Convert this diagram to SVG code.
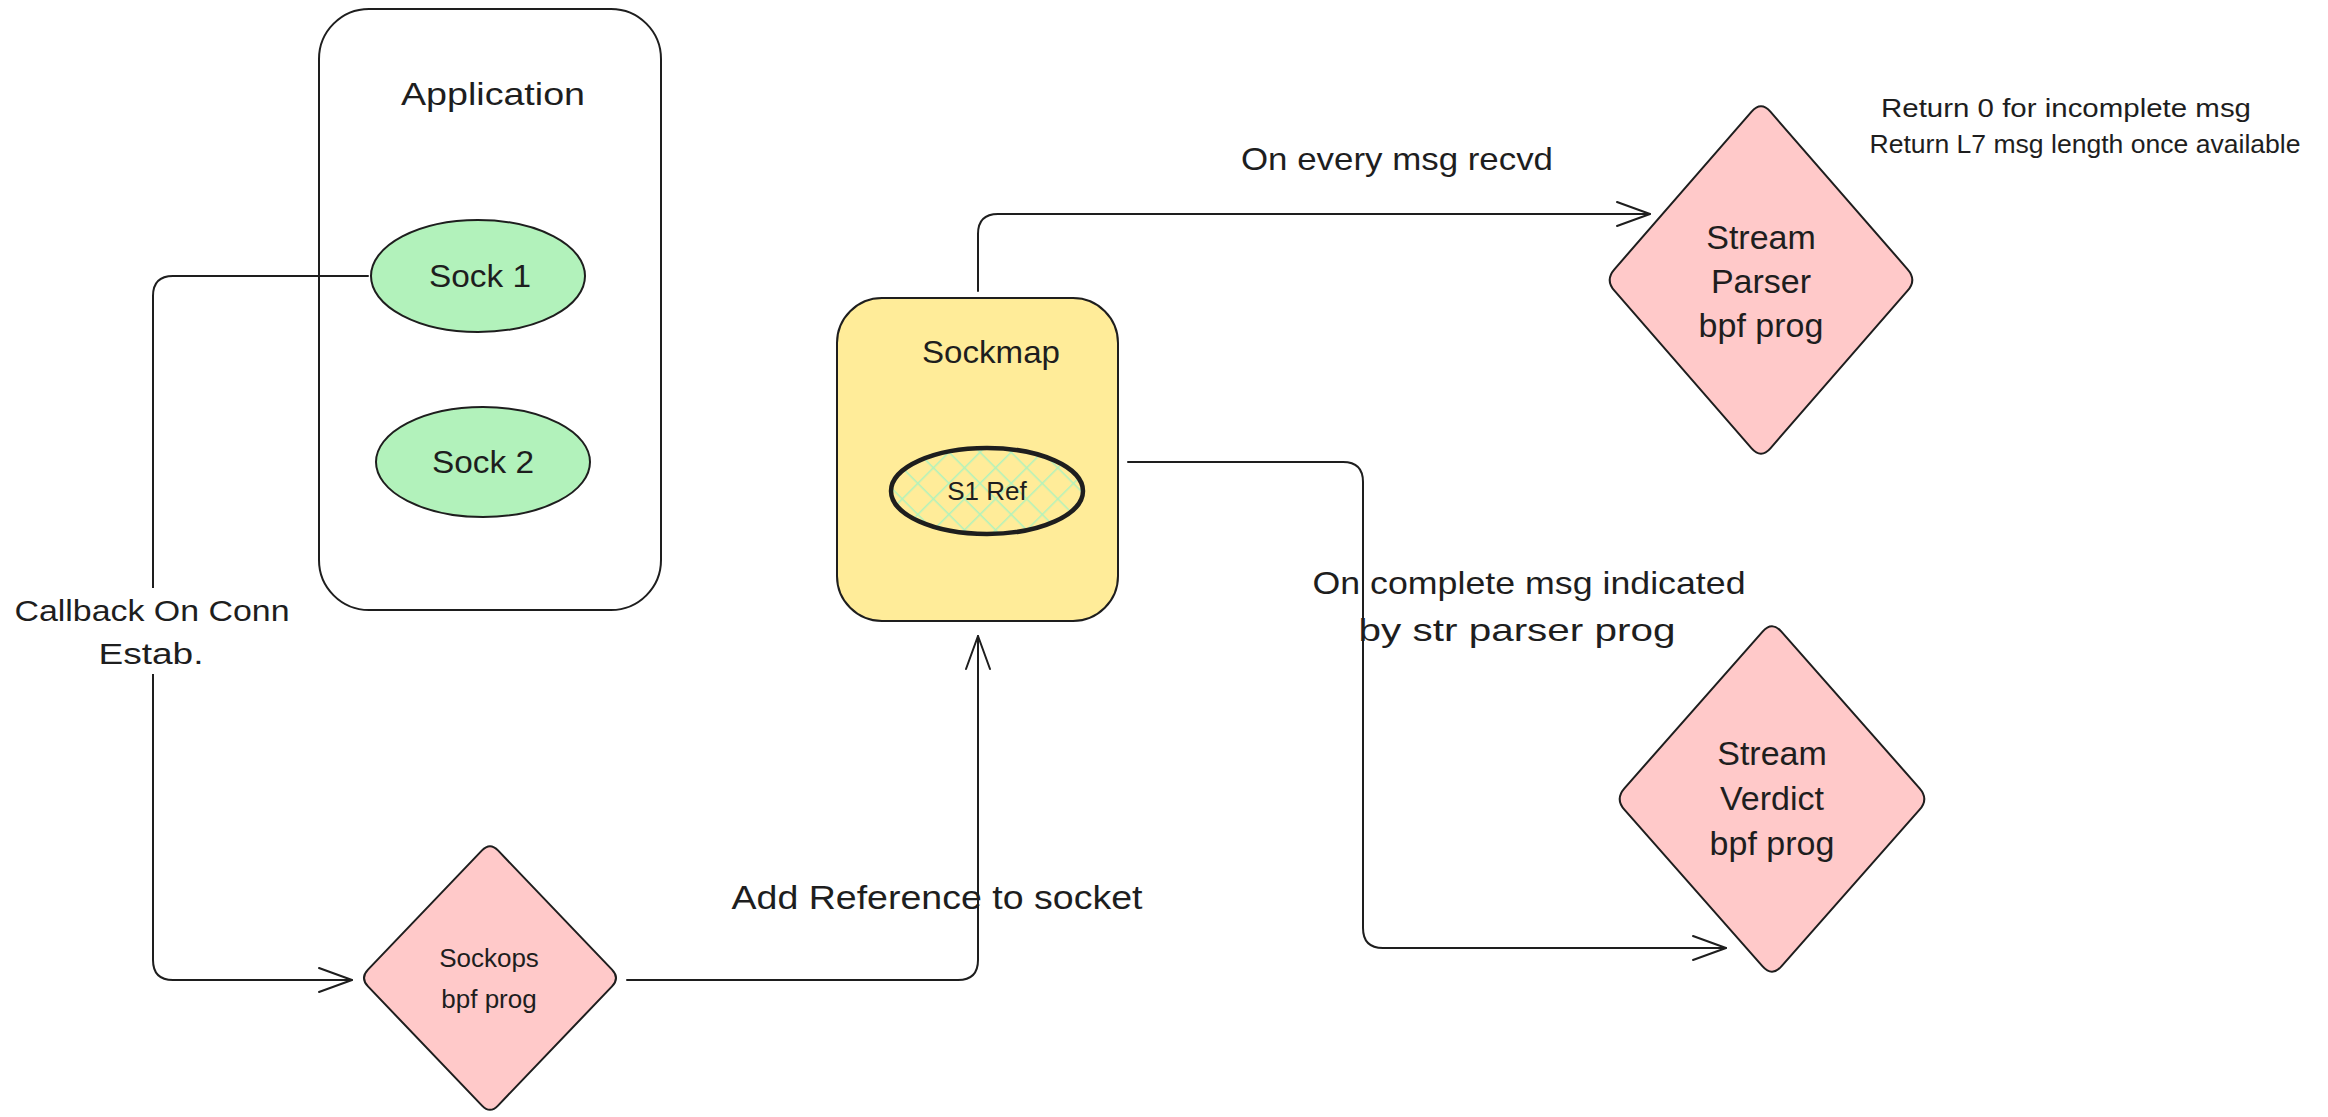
<svg xmlns="http://www.w3.org/2000/svg" width="2328" height="1117" viewBox="0 0 2328 1117">
<style>
.t{font-family:"Liberation Sans","DejaVu Sans",sans-serif;fill:#1e1e1e;text-anchor:middle;dominant-baseline:central}
.s{stroke:#1e1e1e;stroke-width:2;stroke-linejoin:round;stroke-linecap:round}
.c{fill:none;stroke:#1e1e1e;stroke-width:2;stroke-linecap:round;stroke-linejoin:round}
</style>
<defs>
<marker id="arr" markerUnits="userSpaceOnUse" markerWidth="40" markerHeight="30" viewBox="-36 -15 40 30" refX="0" refY="0" orient="auto">
<path d="M-33,-12 L0,0 L-33,12" fill="none" stroke="#1e1e1e" stroke-width="2" stroke-linecap="round" stroke-linejoin="round"/>
</marker>
<pattern id="hatch" patternUnits="userSpaceOnUse" width="22" height="22" patternTransform="rotate(45)">
<rect width="22" height="22" fill="#ffec99"/>
<line x1="0" y1="0" x2="0" y2="22" stroke="#b2f2bb" stroke-width="3"/>
<line x1="0" y1="0" x2="22" y2="0" stroke="#b2f2bb" stroke-width="3"/>
</pattern>
</defs>
<rect width="2328" height="1117" fill="#ffffff"/>

<g id="connectors">
<path class="c" d="M368,276 L173,276 Q153,276 153,296 L153,960 Q153,980 173,980 L352,980" marker-end="url(#arr)"/>
<path class="c" d="M627,980 L958,980 Q978,980 978,960 L978,636" marker-end="url(#arr)"/>
<path class="c" d="M978,291 L978,234 Q978,214 998,214 L1650,214" marker-end="url(#arr)"/>
<path class="c" d="M1128,462 L1343,462 Q1363,462 1363,482 L1363,928 Q1363,948 1383,948 L1726,948" marker-end="url(#arr)"/>
</g>

<g id="application">
<rect class="s" x="319" y="9" width="342" height="601" rx="50" fill="none"/>
<text class="t" x="493" y="94" font-size="32" textLength="184" lengthAdjust="spacingAndGlyphs">Application</text>
</g>
<g id="sock1">
<ellipse class="s" cx="478" cy="276" rx="107" ry="56" fill="#b2f2bb"/>
<text class="t" x="480" y="276" font-size="32" textLength="102" lengthAdjust="spacingAndGlyphs">Sock 1</text>
</g>
<g id="sock2">
<ellipse class="s" cx="483" cy="462" rx="107" ry="55" fill="#b2f2bb"/>
<text class="t" x="483" y="462" font-size="32" textLength="102" lengthAdjust="spacingAndGlyphs">Sock 2</text>
</g>

<g id="sockmap">
<rect class="s" x="837" y="298" width="281" height="323" rx="45" fill="#ffec99"/>
<text class="t" x="991" y="352" font-size="32" textLength="138" lengthAdjust="spacingAndGlyphs">Sockmap</text>
</g>
<g id="s1ref">
<ellipse cx="987" cy="491" rx="96" ry="43" fill="url(#hatch)" stroke="#1e1e1e" stroke-width="4.5"/>
<text class="t" x="987" y="491" font-size="26">S1 Ref</text>
</g>

<g id="stream-parser">
<path class="s" fill="#ffc9c9" d="M1770.4,111.7 L1907.6,269.3 Q1917,280 1907.6,290.7 L1770.4,448.3 Q1761,459 1751.6,448.3 L1614.4,290.7 Q1605,280 1614.4,269.3 L1751.6,111.7 Q1761,101 1770.4,111.7 Z"/>
<text class="t" x="1761" y="237" font-size="34">Stream</text>
<text class="t" x="1761" y="281" font-size="34">Parser</text>
<text class="t" x="1761" y="325" font-size="34">bpf prog</text>
</g>

<g id="stream-verdict">
<path class="s" fill="#ffc9c9" d="M1781.4,631.7 L1919.6,788.3 Q1929,799 1919.6,809.7 L1781.4,966.3 Q1772,977 1762.6,966.3 L1624.4,809.7 Q1615,799 1624.4,788.3 L1762.6,631.7 Q1772,621 1781.4,631.7 Z"/>
<text class="t" x="1772" y="753" font-size="34">Stream</text>
<text class="t" x="1772" y="798" font-size="34">Verdict</text>
<text class="t" x="1772" y="843" font-size="34">bpf prog</text>
</g>

<g id="sockops">
<path class="s" fill="#ffc9c9" d="M498,850.4 L612,969.6 Q620,978 612,986.4 L498,1105.6 Q490,1114 482,1105.6 L368,986.4 Q360,978 368,969.6 L482,850.4 Q490,842 498,850.4 Z"/>
<text class="t" x="489" y="958" font-size="26">Sockops</text>
<text class="t" x="489" y="999" font-size="26">bpf prog</text>
</g>

<g id="labels">
<rect x="12" y="588" width="282" height="86" fill="#ffffff"/>
<text class="t" x="152" y="610" font-size="30" textLength="275" lengthAdjust="spacingAndGlyphs">Callback On Conn</text>
<text class="t" x="151" y="653" font-size="30" textLength="105" lengthAdjust="spacingAndGlyphs">Estab.</text>
<text class="t" x="937" y="897" font-size="34" textLength="411" lengthAdjust="spacingAndGlyphs">Add Reference to socket</text>
<text class="t" x="1397" y="159" font-size="32" textLength="312" lengthAdjust="spacingAndGlyphs">On every msg recvd</text>
<text class="t" x="1529" y="583" font-size="32" textLength="433" lengthAdjust="spacingAndGlyphs">On complete msg indicated</text>
<text class="t" x="1517" y="630" font-size="32" textLength="317" lengthAdjust="spacingAndGlyphs">by str parser prog</text>
<text class="t" x="2066" y="108" font-size="26" textLength="370" lengthAdjust="spacingAndGlyphs">Return 0 for incomplete msg</text>
<text class="t" x="2085" y="144" font-size="26" textLength="431" lengthAdjust="spacingAndGlyphs">Return L7 msg length once available</text>
</g>
</svg>
